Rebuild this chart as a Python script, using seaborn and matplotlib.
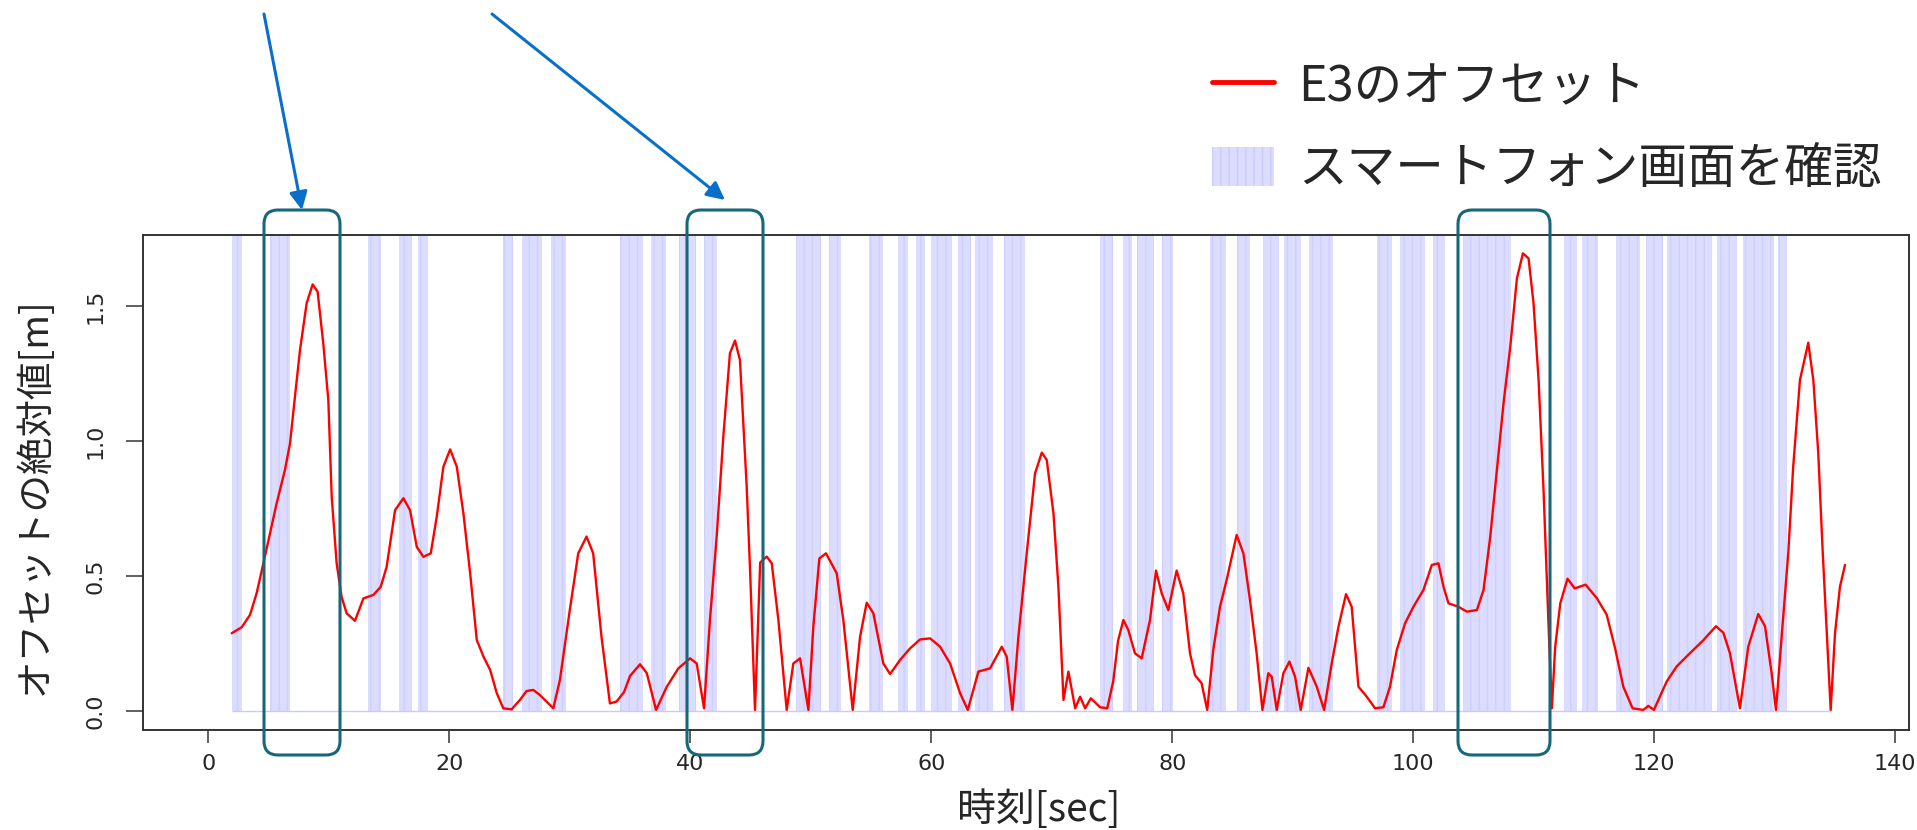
import numpy as np
import pandas as pd
import matplotlib
matplotlib.use('Agg')
import matplotlib.pyplot as plt
import seaborn as sns
from matplotlib.patches import FancyBboxPatch, FancyArrowPatch, Patch
from matplotlib.lines import Line2D
from matplotlib.transforms import Affine2D

# E3のオフセット（絶対値）: 時刻[sec] と値[m]
time_s = [1.94, 2.77, 3.46, 4.01, 4.57, 5.12, 5.67, 6.36, 6.78, 7.19, 7.61, 8.16, 8.66, 9.07,
          9.54, 9.96, 10.24, 10.65, 11.06, 11.48, 12.17, 12.87, 13.70, 14.31, 14.8, 15.5, 16.19,
          16.74, 17.3, 17.85, 18.46, 18.96, 19.51, 20.07, 20.62, 21.17, 21.73, 22.28, 22.84,
          23.39, 23.94, 24.48, 25.17, 25.86, 26.41, 26.97, 27.52, 28.63, 29.18, 30.0, 30.7,
          31.39, 31.94, 32.63, 33.33, 33.88, 34.5, 35.0, 35.83, 36.39, 37.16, 38.05, 39.01,
          39.98, 40.53, 41.14, 41.63, 42.19, 42.74, 43.29, 43.71, 44.12, 44.68, 44.96, 45.23,
          45.37, 45.8, 46.34, 46.76, 47.31, 48.0, 48.55, 49.11, 49.8, 50.21, 50.71, 51.26,
          52.15, 52.7, 53.48, 54.09, 54.64, 55.19, 56.02, 56.58, 57.41, 58.24, 59.07, 59.9,
          60.73, 61.56, 62.39, 63.03, 63.91, 64.88, 65.85, 66.26, 66.73, 67.23, 67.92, 68.61,
          69.17, 69.58, 70.14, 70.55, 70.97, 71.38, 71.94, 72.35, 72.77, 73.24, 74.01, 74.6,
          75.1, 75.5, 75.94, 76.35, 76.9, 77.46, 78.15, 78.65, 79.12, 79.67, 80.36, 80.91,
          81.47, 81.88, 82.43, 82.9, 83.4, 83.96, 84.51, 85.34, 85.9, 86.45, 87.0, 87.48,
          87.97, 88.25, 88.67, 89.22, 89.72, 90.19, 90.66, 91.3, 91.99, 92.6, 93.23, 93.79,
          94.42, 94.89, 95.45, 96.14, 96.83, 97.52, 98.07, 98.63, 99.32, 100.01, 100.84,
          101.54, 102.09, 102.51, 102.92, 103.75, 104.45, 105.28, 105.83, 106.39, 106.94,
          107.49, 108.05, 108.6, 109.1, 109.57, 109.98, 110.4, 110.81, 111.09, 111.23, 111.5,
          111.78, 112.2, 112.8, 113.4, 114.3, 115.23, 116.05, 116.74, 117.43, 118.2, 119.09,
          119.5, 119.97, 121.03, 121.86, 122.96, 124.07, 125.12, 125.73, 126.28, 127.11,
          127.8, 128.63, 129.19, 129.74, 130.1, 130.57, 131.12, 131.53, 132.09, 132.78,
          133.2, 133.61, 133.97, 134.3, 134.64, 135.0, 135.41, 135.83]
offset_m = [0.288, 0.31, 0.356, 0.436, 0.547, 0.658, 0.769, 0.893, 0.991, 1.164, 1.337, 1.51,
            1.58, 1.553, 1.362, 1.152, 0.794, 0.547, 0.423, 0.362, 0.334, 0.417, 0.43, 0.46,
            0.534, 0.744, 0.788, 0.744, 0.608, 0.571, 0.584, 0.72, 0.905, 0.969, 0.905, 0.732,
            0.51, 0.263, 0.201, 0.152, 0.066, 0.01, 0.006, 0.041, 0.074, 0.078, 0.059, 0.01,
            0.115, 0.374, 0.584, 0.646, 0.584, 0.275, 0.028, 0.035, 0.07, 0.13, 0.173, 0.14,
            0.004, 0.09, 0.158, 0.195, 0.176, 0.01, 0.337, 0.646, 1.016, 1.325, 1.372, 1.3,
            0.831, 0.522, 0.176, 0.004, 0.55, 0.572, 0.547, 0.337, 0.004, 0.176, 0.195, 0.004,
            0.312, 0.565, 0.584, 0.51, 0.337, 0.004, 0.275, 0.401, 0.362, 0.176, 0.137, 0.189,
            0.232, 0.265, 0.269, 0.238, 0.176, 0.066, 0.004, 0.146, 0.158, 0.238, 0.201, 0.004,
            0.275, 0.584, 0.88, 0.957, 0.93, 0.732, 0.46, 0.041, 0.146, 0.01, 0.053, 0.01,
            0.047, 0.014, 0.01, 0.11, 0.26, 0.337, 0.3, 0.214, 0.195, 0.337, 0.52, 0.436, 0.374,
            0.52, 0.436, 0.214, 0.133, 0.103, 0.004, 0.226, 0.386, 0.485, 0.652, 0.584, 0.411,
            0.214, 0.004, 0.14, 0.127, 0.004, 0.14, 0.183, 0.127, 0.004, 0.16, 0.09, 0.004,
            0.176, 0.312, 0.433, 0.386, 0.09, 0.053, 0.01, 0.014, 0.09, 0.226, 0.325, 0.386,
            0.448, 0.541, 0.547, 0.46, 0.399, 0.386, 0.368, 0.374, 0.448, 0.646, 0.893, 1.14,
            1.349, 1.602, 1.695, 1.676, 1.51, 1.226, 0.819, 0.485, 0.312, 0.01, 0.238, 0.399,
            0.49, 0.454, 0.468, 0.418, 0.357, 0.234, 0.09, 0.01, 0.004, 0.019, 0.004, 0.109,
            0.165, 0.214, 0.262, 0.314, 0.29, 0.214, 0.01, 0.238, 0.359, 0.314, 0.14, 0.004,
            0.275, 0.584, 0.905, 1.226, 1.364, 1.226, 0.955, 0.597, 0.301, 0.004, 0.288, 0.46,
            0.541]

# スマートフォン画面を確認していた区間 [sec]
check_start = [1.94, 5.12, 13.28, 15.85, 17.38, 24.48, 26.0, 28.44, 34.2, 36.71, 39.06, 41.16,
               48.77, 51.51, 54.8, 57.21, 58.73, 59.95, 62.19, 63.63, 66.03, 74.03, 75.88,
               77.1, 79.17, 83.13, 85.4, 87.55, 89.3, 91.35, 96.96, 98.9, 101.66, 104.15,
               112.5, 114.02, 116.8, 119.3, 121.03, 125.23, 127.39, 130.29]
check_end = [2.83, 6.78, 14.31, 16.9, 18.26, 25.26, 27.67, 29.66, 36.1, 37.96, 40.47, 42.22,
             50.85, 52.5, 55.97, 58.09, 59.5, 61.74, 63.27, 65.1, 67.78, 75.04, 76.63, 78.48,
             80.03, 84.46, 86.45, 88.85, 90.68, 93.36, 98.2, 100.97, 102.63, 108.11, 113.56,
             115.3, 118.8, 120.7, 124.76, 126.89, 129.93, 130.98]

x_ticks = [0, 20, 40, 60, 80, 100, 120, 140]
y_ticks = [0.0, 0.5, 1.0, 1.5]
y_tick_labels = ['0.0', '0.5', '1.0', '1.5']

W, H = 1917, 830

sns.set_style('white')
plt.rcParams['font.family'] = ['Noto Sans CJK JP', 'DejaVu Sans']

fig = plt.figure(figsize=(W / 100, H / 100), dpi=100)
ax = fig.add_axes([143 / W, 1 - 730 / H, (1909 - 143) / W, (730 - 235) / H])

df = pd.DataFrame({'time': time_s, 'offset': offset_m})
spans = pd.DataFrame({'start': check_start, 'end': check_end})
spans['width'] = spans['end'] - spans['start']

# 画面確認区間（薄い青）
ax.bar(spans['start'], 2.0, width=spans['width'], align='edge', bottom=0,
       color='#dcdcfe', edgecolor='#cfcffd', linewidth=0, hatch='||', zorder=1)
ax.hlines(0, min(time_s), 134.64, color='#c9c9fb', lw=1.0, zorder=1.5)

# オフセット
sns.lineplot(data=df, x='time', y='offset', ax=ax, color='#ff0000', lw=1.7,
             estimator=None, sort=False, zorder=3)

ax.set_xlim(-5.42, 141.14)
ax.set_ylim(-0.0704, 1.763)
ax.set_xticks(x_ticks)
ax.set_xticklabels([str(v) for v in x_ticks], family='DejaVu Sans', fontsize=16)
ax.set_yticks(y_ticks)
ax.set_yticklabels(y_tick_labels, family='DejaVu Sans', fontsize=16, rotation=90, va='center')
ax.tick_params(axis='x', direction='out', length=9.5, width=1.1, color='#333333', pad=8)
ax.tick_params(axis='y', direction='out', length=12, width=1.1, color='#333333', pad=15)
ax.tick_params(left=True, bottom=True)
for sp in ax.spines.values():
    sp.set_visible(True)
    sp.set_color('#333333')
    sp.set_linewidth(1.4)

ax.set_xlabel('時刻[sec]', fontsize=28)
ax.xaxis.set_label_coords(0.507, -0.162)
ax.xaxis.label.set_va('center')
ax.set_ylabel('オフセットの絶対値[m]', fontsize=27)
ax.yaxis.set_label_coords(-0.0612, 0.473)
ax.yaxis.label.set_va('center')

# 凡例
handles = [Line2D([0], [0], color='#ff0000', lw=3.5),
           Patch(facecolor='#dcdcfe', edgecolor='#cbcbfd', hatch='||', linewidth=0)]
labels = ['E3のオフセット', 'スマートフォン画面を確認']
fig.legend(handles, labels, loc='upper left', bbox_to_anchor=(1212 / W, 1 - 62 / H),
           frameon=False, fontsize=35, handlelength=1.27, handleheight=0.85,
           handletextpad=0.5, labelspacing=0.68, borderpad=0, borderaxespad=0)

# 注目区間の枠と矢印（参照画像のピクセル座標）
px = Affine2D().scale(1 / W, 1 / H) + fig.transFigure
box_color = '#17677a'
for x0, x1 in [(264, 340), (687, 763), (1458, 1550)]:
    fig.patches.append(FancyBboxPatch((x0, H - 755), x1 - x0, 755 - 210,
                                      boxstyle='round,pad=0,rounding_size=14',
                                      fill=False, edgecolor=box_color, lw=2.2,
                                      transform=px, zorder=10))
arrow_color = '#0a6fcb'
for (xa, ya), (xb, yb) in [((264, 14), (302, 210)), ((492, 14), (725, 200))]:
    fig.patches.append(FancyArrowPatch((xa, H - ya), (xb, H - yb), arrowstyle='-|>',
                                       mutation_scale=27, color=arrow_color, lw=2.2,
                                       shrinkA=0, shrinkB=0, transform=px, zorder=10))

fig.savefig('out.png', dpi=100)
